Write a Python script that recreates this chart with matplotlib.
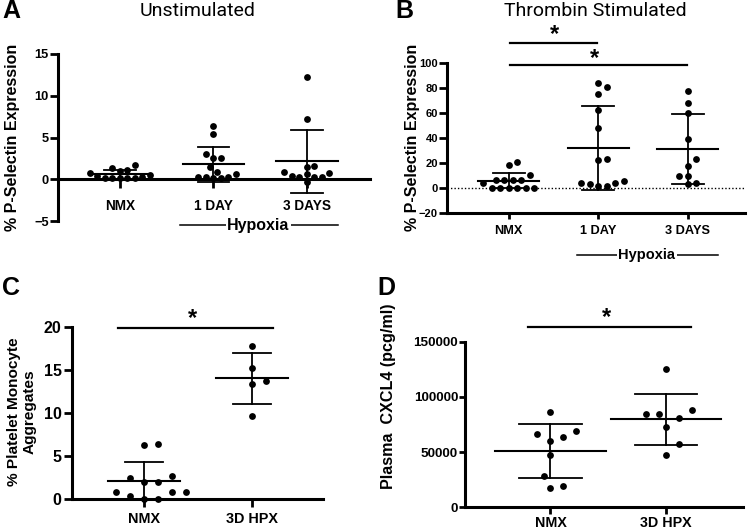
import numpy as np
import matplotlib
matplotlib.use("Agg")
import matplotlib.pyplot as plt
from matplotlib.transforms import blended_transform_factory

# ---- data ----
a_groups = ["NMX", "1 DAY", "3 DAYS"]
a_nmx = [0.8, 1.4, 0.1, 0.1, 0.5, 0.3, 1.0, 1.1, 1.7, 0.1, 0.1, 0.1, 0.35]
a_1day = [1.5, 0.1, 0.6, 2.5, 2.5, 0.9, 0.3, 0.3, 3.0, 0.1, 0.3, 5.4, 6.4]
a_3day = [1.5, 1.6, 0.3, 0.4, 0.8, 0.9, -0.3, 0.6, 0.3, 0.3, 7.2, 12.3]
a_mean = [0.6, 1.8, 2.15]
a_sd = [0.55, 2.1, 3.75]

b_groups = ["NMX", "1 DAY", "3 DAYS"]
b_nmx = [6.6, 0.3, 4.0, 6.6, 0.3, 18.5, 10.5, 6.6, 0.3, 20.6, 6.6, 0.3, 0.3, 0.3]
b_1day = [2, 5.6, 3.4, 4.4, 2, 4, 22.8, 23.3, 48.4, 62.4, 75.6, 81, 84.6]
b_3day = [78, 68, 60, 39, 23, 18, 10, 10, 3, 4]
b_mean = [6, 32.2, 31.0]
b_sd = [6.2, 33.4, 28.0]

c_groups = ["NMX", "3D HPX"]
c_nmx = [6.3, 6.45, 2.7, 2.05, 2.05, 2.5, 0.9, 0.9, 0.9, 0.05, 0.05, 0.35]
c_hpx = [17.8, 15.2, 13.7, 13.4, 9.65]
c_mean = [2.1, 14.0]
c_sd = [2.2, 2.9]

d_groups = ["NMX", "3D HPX"]
d_nmx = [86600, 69100, 66100, 63900, 60000, 47400, 28400, 17200, 19600]
d_hpx = [125000, 84500, 88100, 84500, 80600, 73000, 57000, 47100]
d_mean = [51000, 79700]
d_sd = [24600, 23100]

plt.rcParams["font.family"] = ["Liberation Sans", "DejaVu Sans"]
plt.rcParams["font.weight"] = "bold"

W, H = 750, 530
fig = plt.figure(figsize=(7.5, 5.3), dpi=100)


def box(l, r, t, b):
    return [l / W, 1 - b / H, (r - l) / W, (b - t) / H]


def swarm(ax, x0, vals, gap):
    vals = np.asarray(vals, float)
    py = ax.transData.transform(np.column_stack([np.full(len(vals), x0), vals]))[:, 1]
    xs = np.zeros(len(vals))
    placed = []
    for i in np.argsort(py):
        k = 0
        pos = None
        while pos is None:
            cands = [0.0] if k == 0 else [k * gap / 2, -k * gap / 2]
            for c in cands:
                if all((c - px) ** 2 + (py[i] - qy) ** 2 >= gap ** 2 * 0.999 for px, qy in placed):
                    pos = c
                    break
            k += 1
        placed.append((pos, py[i]))
        xs[i] = pos
    p0 = ax.transData.transform((0, 0))[0]
    p1 = ax.transData.transform((1, 0))[0]
    return x0 + xs / (p1 - p0)


def column(ax, x0, vals, mean, sd, gap, mw, cw):
    xs = swarm(ax, x0, vals, gap)
    ax.scatter(xs, vals, s=24, c="black", linewidths=0, zorder=3, clip_on=False)
    ax.plot([x0 - mw, x0 + mw], [mean, mean], color="black", lw=1.5, zorder=4)
    ax.plot([x0, x0], [mean - sd, mean + sd], color="black", lw=1.3, zorder=4)
    for v in (mean - sd, mean + sd):
        ax.plot([x0 - cw, x0 + cw], [v, v], color="black", lw=1.3, zorder=4)


def style(ax, xlim, ylim, yticks, labels, xfs, yfs, xlen, xpad, ylen=5.5, ypad=1):
    ax.set_xlim(*xlim)
    ax.set_ylim(*ylim)
    for s in ("top", "right"):
        ax.spines[s].set_visible(False)
    for s in ("left", "bottom"):
        ax.spines[s].set_linewidth(2.2)
    ax.set_yticks(yticks)
    ax.set_xticks(range(len(labels)))
    ax.set_xticklabels(labels)
    ax.tick_params(axis="y", direction="out", length=ylen, width=2, pad=ypad, labelsize=yfs)
    ax.tick_params(axis="x", direction="out", length=xlen, width=2, pad=xpad, labelsize=xfs)


def sig(ax, x1, x2, y, xs, ys, fs=17):
    ax.plot([x1, x2], [y, y], color="black", lw=1.6, clip_on=False)
    ax.text(xs, ys, "*", ha="center", va="center", fontsize=fs, clip_on=False)


def hypoxia(ax, x1, x2, y, xt, fs):
    tr = blended_transform_factory(ax.transData, ax.transAxes)
    ax.plot([x1, x2], [y, y], color="black", lw=1.1, transform=tr, clip_on=False)
    ax.text(xt, y, "Hypoxia", transform=tr, ha="center", va="center", fontsize=fs,
            bbox=dict(facecolor="white", edgecolor="none", pad=1))


# ---- panel A ----
axA = fig.add_axes(box(58, 370, 54, 221))
style(axA, (-0.663, 2.674), (-5, 15), [-5, 0, 5, 10, 15], a_groups, 9.8, 9.3, 6.5, 8)
axA.spines["bottom"].set_position(("data", 0))
for i, vals in enumerate([a_nmx, a_1day, a_3day]):
    column(axA, i, vals, a_mean[i], a_sd[i], 7.5, 0.33, 0.17)
hypoxia(axA, 0.64, 2.33, -0.024, 1.48, 11.5)

# ---- panel B ----
axB = fig.add_axes(box(447, 745, 63.3, 213))
style(axB, (-0.69, 2.64), (-20, 100), [-20, 0, 20, 40, 60, 80, 100], b_groups, 9.2, 8.0, 4, 4.5)
axB.axhline(0, color="black", lw=1, ls=(0, (1, 1.5)), zorder=1)
for i, vals in enumerate([b_nmx, b_1day, b_3day]):
    column(axB, i, vals, b_mean[i], b_sd[i], 8.5, 0.34, 0.18)
sig(axB, 0.01, 0.99, 116, 0.51, 123)
sig(axB, 0.01, 1.99, 98.6, 0.96, 104)
hypoxia(axB, 0.76, 2.34, -0.28, 1.54, 10.5)

# ---- panel C ----
axC = fig.add_axes(box(72, 323, 326.7, 499.3))
style(axC, (-0.667, 1.657), (0, 20), [0, 5, 10, 15, 20], c_groups, 10.4, 11.5, 5.5, 3.6, ylen=6, ypad=1.5)
for i, vals in enumerate([c_nmx, c_hpx]):
    column(axC, i, vals, c_mean[i], c_sd[i], 14, 0.33, 0.18)
sig(axC, -0.24, 1.19, 19.8, 0.45, 20.9)

# ---- panel D ----
axD = fig.add_axes(box(465, 743, 341.7, 507.3))
style(axD, (-0.74, 1.667), (0, 150000), [0, 50000, 100000, 150000], d_groups, 10.3, 9.7, 5, 1.5,
      ylen=4, ypad=1)
for i, vals in enumerate([d_nmx, d_hpx]):
    column(axD, i, vals, d_mean[i], d_sd[i], 13, 0.48, 0.27)
sig(axD, -0.197, 1.214, 163600, 0.487, 172000)

# ---- labels, titles, panel letters ----
fig.text(13 / W, 1 - 137.5 / H, "% P-Selectin Expression", rotation=90, ha="center", va="center", fontsize=11.5)
fig.text(413 / W, 1 - 137 / H, "% P-Selectin Expression", rotation=90, ha="center", va="center", fontsize=11.5)
fig.text(22 / W, 1 - 412 / H, "% Platelet Monocyte\nAggregates", rotation=90, ha="center", va="center",
         fontsize=11.1, linespacing=1.2, multialignment="center")
fig.text(388 / W, 1 - 396 / H, "Plasma  CXCL4 (pcg/ml)", rotation=90, ha="center", va="center", fontsize=11.6)

fig.text(197.5 / W, 1 - 16 / H, "Unstimulated", ha="center", va="baseline", fontsize=14,
         family="Roboto", weight="normal")
fig.text(595 / W, 1 - 16 / H, "Thrombin Stimulated", ha="center", va="baseline", fontsize=14,
         family="Roboto", weight="normal")

for letter, x, y in [("A", 2, 18), ("B", 395, 18), ("C", 2, 295), ("D", 377, 295)]:
    fig.text(x / W, 1 - y / H, letter, ha="left", va="baseline", fontsize=18)

fig.savefig("out.png", dpi=100)
